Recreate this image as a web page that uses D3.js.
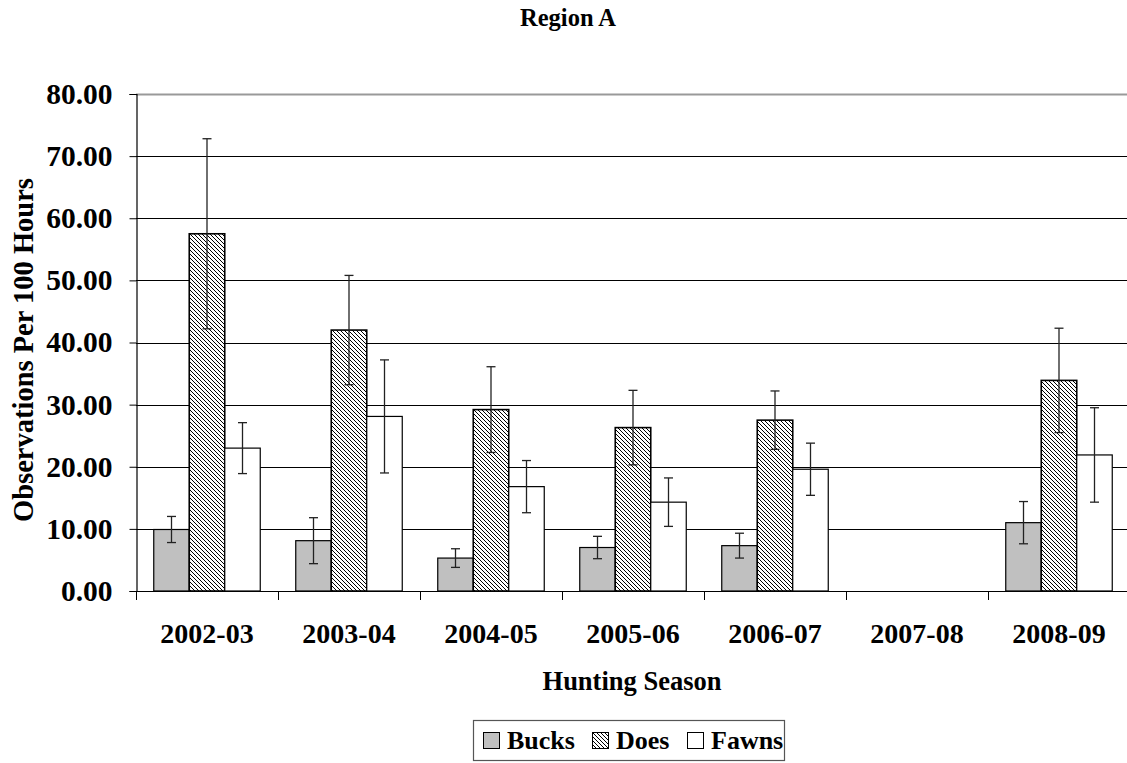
<!DOCTYPE html>
<html>
<head>
<meta charset="utf-8">
<script src="https://cdn.jsdelivr.net/npm/d3@7"></script>
<style>
  html, body { margin: 0; padding: 0; background: #fff; }
  svg { display: block; }
</style>
</head>
<body>
<svg id="chart" width="1127" height="763"></svg>
<script>
const seasons = ["2002-03", "2003-04", "2004-05", "2005-06", "2006-07", "2007-08", "2008-09"];
const seriesNames = ["Bucks", "Does", "Fawns"];
const bucks = [9.9, 8.1, 5.3, 7.0, 7.3, null, 11.0];
const bucksErr = [2.1, 3.7, 1.5, 1.8, 2.0, null, 3.4];
const does = [57.5, 42.0, 29.2, 26.3, 27.5, null, 33.9];
const doesErr = [15.3, 8.8, 6.9, 6.0, 4.7, null, 8.4];
const fawns = [23.0, 28.1, 16.8, 14.3, 19.6, null, 21.9];
const fawnsErr = [4.1, 9.1, 4.2, 3.9, 4.2, null, 7.6];
const yTicks = [0, 10, 20, 30, 40, 50, 60, 70, 80];

const values = { Bucks: bucks, Does: does, Fawns: fawns };
const errors = { Bucks: bucksErr, Does: doesErr, Fawns: fawnsErr };

const FONT = "Liberation Serif";
const svg = d3.select("#chart");
const plotLeft = 136, plotRight = 1130, plotTop = 94, plotBottom = 591;

function styleText(sel, size) {
  return sel.attr("font-family", FONT).attr("font-weight", "bold").attr("font-size", size).attr("fill", "#000");
}

const defs = svg.append("defs");
const pat = defs.append("pattern")
  .attr("id", "hatch").attr("patternUnits", "userSpaceOnUse")
  .attr("width", 4).attr("height", 4);
pat.append("rect").attr("width", 4).attr("height", 4).attr("fill", "#fff");
pat.append("path").attr("d", "M-1,-1 L5,5 M-1,3 L1,5 M3,-1 L5,1")
  .attr("stroke", "#000").attr("stroke-width", 1);

const fills = { Bucks: "#c0c0c0", Does: "url(#hatch)", Fawns: "#ffffff" };

const x0 = d3.scaleBand().domain(seasons).range([plotLeft, plotRight]).padding(0);
const bw = x0.bandwidth() / 4;
const x1 = d3.scaleBand().domain(seriesNames).range([bw / 2, bw / 2 + 3 * bw]).padding(0);
const y = d3.scaleLinear().domain([0, 80]).range([plotBottom, plotTop]);

// gridlines
svg.append("g").selectAll("line").data(yTicks.filter(d => d > 0)).join("line")
  .attr("x1", plotLeft).attr("x2", plotRight)
  .attr("y1", d => Math.round(y(d)) + 0.5).attr("y2", d => Math.round(y(d)) + 0.5)
  .attr("stroke", d => d === 80 ? "#999" : "#000").attr("stroke-width", d => d === 80 ? 2 : 1);

// bars
const groups = svg.append("g").selectAll("g").data(seasons).join("g")
  .attr("transform", d => `translate(${x0(d)},0)`);

seriesNames.forEach(s => {
  groups.filter((d, i) => values[s][i] != null)
    .append("rect")
    .attr("x", x1(s))
    .attr("width", x1.bandwidth())
    .attr("y", d => y(values[s][seasons.indexOf(d)]))
    .attr("height", d => y(0) - y(values[s][seasons.indexOf(d)]))
    .attr("fill", fills[s])
    .attr("stroke", "#000")
    .attr("stroke-width", s === "Does" ? 1.6 : 1.2);
});

// error bars
seriesNames.forEach(s => {
  const g = groups.filter((d, i) => values[s][i] != null).append("g").attr("stroke", "#222").attr("stroke-width", 1.3);
  const cx = x1(s) + x1.bandwidth() / 2;
  g.append("line").attr("x1", cx).attr("x2", cx)
    .attr("y1", d => { const i = seasons.indexOf(d); return y(values[s][i] + errors[s][i]); })
    .attr("y2", d => { const i = seasons.indexOf(d); return y(values[s][i] - errors[s][i]); });
  [1, -1].forEach(sign => {
    g.append("line").attr("x1", cx - 4.5).attr("x2", cx + 4.5)
      .attr("y1", d => { const i = seasons.indexOf(d); return y(values[s][i] + sign * errors[s][i]); })
      .attr("y2", d => { const i = seasons.indexOf(d); return y(values[s][i] + sign * errors[s][i]); });
  });
});

// y axis
const yAxis = d3.axisLeft(y).tickValues(yTicks).tickSize(7).tickPadding(17).tickFormat(d3.format(".2f"));
const ya = svg.append("g").attr("transform", `translate(${plotLeft + 0.5},0)`).call(yAxis)
  .attr("font-family", FONT);
ya.select(".domain").attr("stroke", "#000").attr("stroke-width", 1.2);
ya.selectAll(".tick line").attr("stroke", "#000");
styleText(ya.selectAll(".tick text"), 29.5);

// x axis line + ticks at band boundaries
svg.append("line").attr("x1", plotLeft).attr("x2", plotRight).attr("y1", plotBottom + 0.5).attr("y2", plotBottom + 0.5).attr("stroke", "#000").attr("stroke-width", 1.2);
const bounds = seasons.map(s => x0(s)).concat([plotRight]);
svg.append("g").selectAll("line").data(bounds).join("line")
  .attr("x1", d => Math.round(d) + 0.5).attr("x2", d => Math.round(d) + 0.5)
  .attr("y1", plotBottom).attr("y2", plotBottom + 9).attr("stroke", "#000").attr("stroke-width", 1);
styleText(svg.append("g").selectAll("text").data(seasons).join("text")
  .attr("x", d => x0(d) + x0.bandwidth() / 2).attr("y", 643)
  .attr("text-anchor", "middle"), 28).text(d => d);

// titles
styleText(svg.append("text").attr("x", 568).attr("y", 26).attr("text-anchor", "middle"), 24.5).text("Region A");
styleText(svg.append("text").attr("x", 632).attr("y", 690).attr("text-anchor", "middle"), 26.5).text("Hunting Season");
styleText(svg.append("text").attr("transform", "translate(33,350) rotate(-90)").attr("text-anchor", "middle"), 28.5).text("Observations Per 100 Hours");

// legend
const lg = svg.append("g");
lg.append("rect").attr("x", 473.5).attr("y", 720.5).attr("width", 311).attr("height", 40)
  .attr("fill", "#fff").attr("stroke", "#555").attr("stroke-width", 1.2);
const legendX = [483, 592, 687];
seriesNames.forEach((s, i) => {
  lg.append("rect").attr("x", legendX[i] + 0.5).attr("y", 732.5).attr("width", 16).attr("height", 16)
    .attr("fill", fills[s]).attr("stroke", "#000").attr("stroke-width", 1);
  styleText(lg.append("text").attr("x", legendX[i] + 24).attr("y", 748.5), 26).text(s);
});
</script>
</body>
</html>
